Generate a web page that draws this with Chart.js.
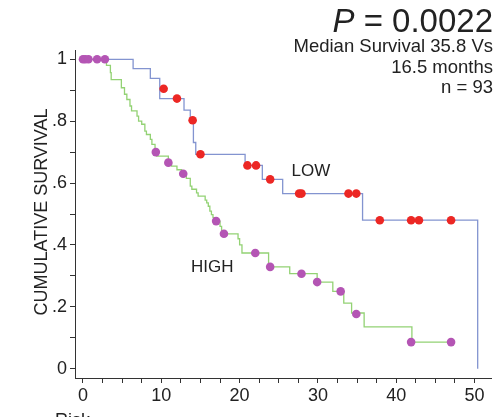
<!DOCTYPE html>
<html><head><meta charset="utf-8">
<script src="https://cdn.jsdelivr.net/npm/chart.js@4/dist/chart.umd.min.js"></script>
<style>html,body{margin:0;padding:0;background:#fff}#wrap{width:503px;height:417px}</style>
</head><body><div id="wrap"><canvas id="c" width="503" height="417"></canvas></div>
<script>
const lowTimes = [0, 6.4, 8.6, 9.8, 12.9, 13.7, 14.1, 14.4, 20.7, 22.9, 25.5, 35.7, 50.4, 50.4];
const lowSurv  = [1, 0.970, 0.938, 0.873, 0.836, 0.800, 0.731, 0.693, 0.657, 0.612, 0.566, 0.480, 0.480, 0];
const highTimes = [0, 3.0, 3.5, 3.6, 4.9, 5.3, 5.6, 6.0, 6.2, 6.9, 7.1, 7.5, 7.9, 8.1, 8.6, 8.8, 9.2, 9.4, 10.9, 11.3, 12.0, 12.6, 13.2, 13.7, 13.9, 14.5, 14.7, 15.6, 15.8, 16.0, 16.2, 16.4, 16.6, 17.0, 17.5, 17.7, 18.0, 19.8, 20.0, 20.3, 23.7, 26.4, 29.9, 31.9, 33.3, 34.3, 35.9, 42.0, 47.0];
const highSurv  = [1, 0.980, 0.957, 0.934, 0.908, 0.887, 0.870, 0.849, 0.833, 0.816, 0.800, 0.790, 0.768, 0.757, 0.741, 0.725, 0.709, 0.687, 0.666, 0.655, 0.643, 0.630, 0.615, 0.590, 0.580, 0.568, 0.558, 0.545, 0.536, 0.525, 0.509, 0.498, 0.488, 0.477, 0.460, 0.444, 0.436, 0.420, 0.400, 0.374, 0.329, 0.307, 0.280, 0.250, 0.212, 0.180, 0.135, 0.086, 0.086];
const lowCensorT = [10.3, 12.0, 14.0, 15.0, 21.0, 22.1, 23.9, 27.6, 27.9, 33.9, 34.9, 37.9, 41.9, 42.9, 47.0];
const lowCensorS = [0.905, 0.873, 0.803, 0.693, 0.657, 0.657, 0.612, 0.566, 0.566, 0.566, 0.566, 0.480, 0.480, 0.480, 0.480];
const highCensorT = [0, 0.3, 0.7, 1.8, 2.8, 9.3, 10.9, 12.8, 17.0, 18.0, 22.0, 23.9, 27.9, 29.9, 32.9, 34.9, 41.9, 47.0];
const highCensorS = [1, 1, 1, 1, 1, 0.700, 0.666, 0.630, 0.477, 0.436, 0.374, 0.329, 0.307, 0.280, 0.250, 0.177, 0.086, 0.086];
const xTickValues = [0, 2.5, 5, 7.5, 10, 12.5, 15, 17.5, 20, 22.5, 25, 27.5, 30, 32.5, 35, 37.5, 40, 42.5, 45, 47.5, 50];
const xTickLabels = {0:'0', 10:'10', 20:'20', 30:'30', 40:'40', 50:'50'};
const yTickValues = [0, 0.1, 0.2, 0.3, 0.4, 0.5, 0.6, 0.7, 0.8, 0.9, 1];
const yTickLabels = {'0':'0', '0.2':'.2', '0.4':'.4', '0.6':'.6', '0.8':'.8', '1':'1'};
const groupLabels = [{text:'LOW', x:29.1, y:0.637}, {text:'HIGH', x:16.5, y:0.327}];
const pText = '0.0022';
const infoLines = ['Median Survival 35.8 Vs', '16.5 months', 'n = 93'];
const yTitle = 'CUMULATIVE SURVIVAL';
const bottomText = 'Risk';

const zip = (t, s) => t.map((v, i) => ({x: v, y: s[i]}));
const FONT = "'Liberation Sans', Arial, sans-serif";
const txt = '#222';

const annot = {
  id: 'annot',
  afterDraw(chart) {
    const ctx = chart.ctx, xs = chart.scales.x, ys = chart.scales.y;
    ctx.save();
    ctx.fillStyle = txt;
    ctx.textBaseline = 'alphabetic';
    ctx.textAlign = 'right';
    ctx.font = '33px ' + FONT;
    const rest = ' = ' + pText;
    ctx.fillText(rest, 493, 32);
    const w = ctx.measureText(rest).width;
    ctx.font = 'italic 33px ' + FONT;
    ctx.fillText('P', 493 - w, 32);
    ctx.font = '18.5px ' + FONT;
    infoLines.forEach((l, i) => ctx.fillText(l, 493, 52 + i * 20.5));
    ctx.textAlign = 'center';
    ctx.textBaseline = 'middle';
    ctx.font = '17px ' + FONT;
    groupLabels.forEach(g => ctx.fillText(g.text, xs.getPixelForValue(g.x), ys.getPixelForValue(g.y)));
    ctx.save();
    ctx.translate(42, 212);
    ctx.rotate(-Math.PI / 2);
    ctx.font = '18px ' + FONT;
    ctx.fillText(yTitle, 0, 0);
    ctx.restore();
    ctx.textAlign = 'left';
    ctx.textBaseline = 'alphabetic';
    ctx.font = '18px ' + FONT;
    ctx.fillText(bottomText, 55, 426);
    ctx.restore();
  }
};

new Chart(document.getElementById('c'), {
  data: {
    datasets: [
      {type:'line', data: zip(lowTimes, lowSurv), stepped: 'before', borderColor:'#8394d0', borderWidth:1.3, pointRadius:0, fill:false, order:3},
      {type:'line', data: zip(highTimes, highSurv), stepped: 'before', borderColor:'#93d274', borderWidth:1.3, pointRadius:0, fill:false, order:3},
      {type:'scatter', data: zip(lowCensorT, lowCensorS), backgroundColor:'#ec2724', borderColor:'#ec2724', pointRadius:4.3, borderWidth:0, order:1},
      {type:'scatter', data: zip(highCensorT, highCensorS), backgroundColor:'#b455b4', borderColor:'#b455b4', pointRadius:4.3, borderWidth:0, order:2}
    ]
  },
  options: {
    responsive:false, animation:false, devicePixelRatio:1,
    layout:{padding:{top:50, right:12, left:0, bottom:0}},
    plugins:{legend:{display:false}, tooltip:{enabled:false}},
    scales:{
      x:{type:'linear', min:-1.02, max:52.1,
        afterBuildTicks: s => { s.ticks = xTickValues.map(v => ({value:v})); },
        afterFit: s => { s.height = 39; },
        grid:{drawOnChartArea:false, drawTicks:true, tickLength:5, color:'#333', tickColor:'#333'},
        border:{display:true, color:'#333', width:1},
        ticks:{autoSkip:false, maxRotation:0, padding:2, color:txt, font:{family:FONT, size:18},
          callback: v => (xTickLabels[v] !== undefined ? xTickLabels[v] : '')}
      },
      y:{type:'linear', min:-0.03, max:1.03,
        afterBuildTicks: s => { s.ticks = yTickValues.map(v => ({value:v})); },
        afterFit: s => { s.width = 75; },
        grid:{drawOnChartArea:false, drawTicks:true, tickLength:5, color:'#333', tickColor:'#333'},
        border:{display:true, color:'#333', width:1},
        ticks:{autoSkip:false, padding:3, color:txt, font:{family:FONT, size:18},
          callback: v => { const k = String(Math.round(v*10)/10); return yTickLabels[k] !== undefined ? yTickLabels[k] : ''; }}
      }
    }
  },
  plugins:[annot]
});
</script></body></html>
